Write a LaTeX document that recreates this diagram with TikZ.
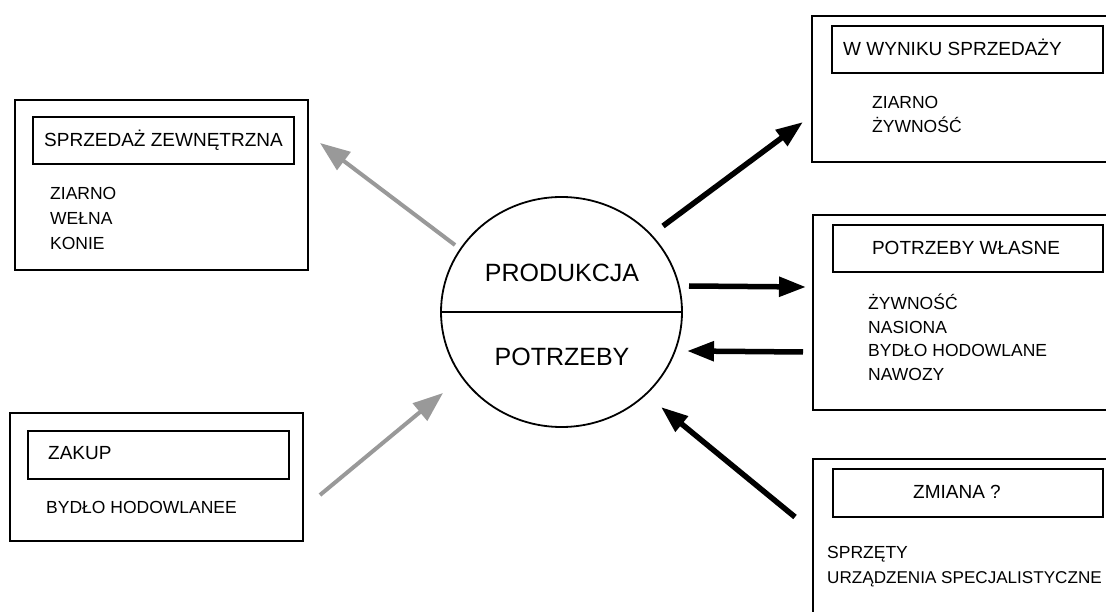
\documentclass[tikz,border=0pt]{standalone}
\usepackage{fontspec}
\setmainfont{Liberation Sans}
\usetikzlibrary{arrows.meta,shapes.geometric}
\begin{document}
\begin{tikzpicture}[x=1pt,y=-1pt,
  outerbox/.style={draw, line width=1.8pt, rectangle, inner sep=0pt},
  innerbox/.style={draw, line width=1.8pt, rectangle, inner sep=0pt},
  title/.style={font=\fontsize{19}{19}\selectfont, text height=13.6pt, text depth=0pt, inner sep=0pt},
  item/.style={font=\fontsize{17.5}{17.5}\selectfont, text height=12.5pt, text depth=0pt, inner sep=0pt, anchor=west},
  big/.style={font=\fontsize{25}{25}\selectfont, text height=17.9pt, text depth=0pt, inner sep=0pt},
  grayarrow/.style={draw=black!40, line width=4pt, -{Triangle[length=30pt,width=22pt]}},
  blackarrow/.style={draw=black, line width=5.5pt, -{Triangle[length=27pt,width=19pt]}}
]
\clip (0,0) rectangle (1106,612);
\useasboundingbox (0,0) rectangle (1106,612);
\fill[white] (0,0) rectangle (1106,612);

% top-left box
\draw[line width=1.8pt] (15,100) rectangle (308,270);
\node[innerbox, minimum width=261pt, minimum height=47pt, anchor=north west] (szbox) at (32,116) {};
\node[title] (sztitle) at (163.5,140) {SPRZEDAŻ ZEWNĘTRZNA};
\node[item] (sz1) at (50,193) {ZIARNO};
\node[item] (sz2) at (50,218) {WEŁNA};
\node[item] (sz3) at (50,243) {KONIE};

% bottom-left box
\draw[line width=1.8pt] (10,413) rectangle (303,541);
\node[innerbox, minimum width=261pt, minimum height=48pt, anchor=north west] (zkbox) at (27,430) {};
\node[title, anchor=west] (zktitle) at (48,453) {ZAKUP};
\node[item] (zk1) at (46,507) {BYDŁO HODOWLANEE};

% top-right box
\draw[line width=1.8pt] (1130,16) -- (812,16) -- (812,162) -- (1130,162);
\node[innerbox, minimum width=271pt, minimum height=47pt, anchor=north west] (wsbox) at (831,25) {};
\node[title, anchor=west] (wstitle) at (843,49) {W WYNIKU SPRZEDAŻY};
\node[item] (ws1) at (872,102) {ZIARNO};
\node[item] (ws2) at (872,126) {ŻYWNOŚĆ};

% middle-right box
\draw[line width=1.8pt] (1130,215) -- (813,215) -- (813,410) -- (1130,410);
\node[innerbox, minimum width=270pt, minimum height=47pt, anchor=north west] (pwbox) at (832,224) {};
\node[title] (pwtitle) at (966,248) {POTRZEBY WŁASNE};
\node[item] (pw1) at (868,303) {ŻYWNOŚĆ};
\node[item] (pw2) at (868,327) {NASIONA};
\node[item] (pw3) at (868,350) {BYDŁO HODOWLANE};
\node[item] (pw4) at (868,374) {NAWOZY};

% bottom-right box
\draw[line width=1.8pt] (1130,459) -- (813,459) -- (813,640);
\node[innerbox, minimum width=270pt, minimum height=48pt, anchor=north west] (zmbox) at (832,468) {};
\node[title] (zmtitle) at (957,492) {ZMIANA ?};
\node[item] (zm1) at (827,552) {SPRZĘTY};
\node[item, font=\fontsize{17.1}{17.1}\selectfont] (zm2) at (827,577) {URZĄDZENIA SPECJALISTYCZNE};

% central circle
\node[draw, ellipse, line width=1.8pt, minimum width=241pt, minimum height=230pt, inner sep=0pt] (circ) at (561.5,312) {};
\draw[line width=1.8pt] (circ.west) -- (circ.east);
\node[big] (prod) at (562,273) {PRODUKCJA};
\node[big] (potr) at (562,357) {POTRZEBY};

% arrow end points
\coordinate (a1s) at (455,245); \coordinate (a1e) at (320,143);
\coordinate (a2s) at (320,495); \coordinate (a2e) at (443,393);
\coordinate (a3s) at (663,226); \coordinate (a3e) at (803,122);
\coordinate (a4s) at (689,286); \coordinate (a4e) at (806,287);
\coordinate (a5s) at (803,352); \coordinate (a5e) at (687,351);
\coordinate (a6s) at (795,517); \coordinate (a6e) at (661,407);

\draw[grayarrow] (a1s) -- (a1e);
\draw[grayarrow] (a2s) -- (a2e);
\draw[blackarrow] (a3s) -- (a3e);
\draw[blackarrow] (a4s) -- (a4e);
\draw[blackarrow] (a5s) -- (a5e);
\draw[blackarrow] (a6s) -- (a6e);
\end{tikzpicture}
\end{document}
